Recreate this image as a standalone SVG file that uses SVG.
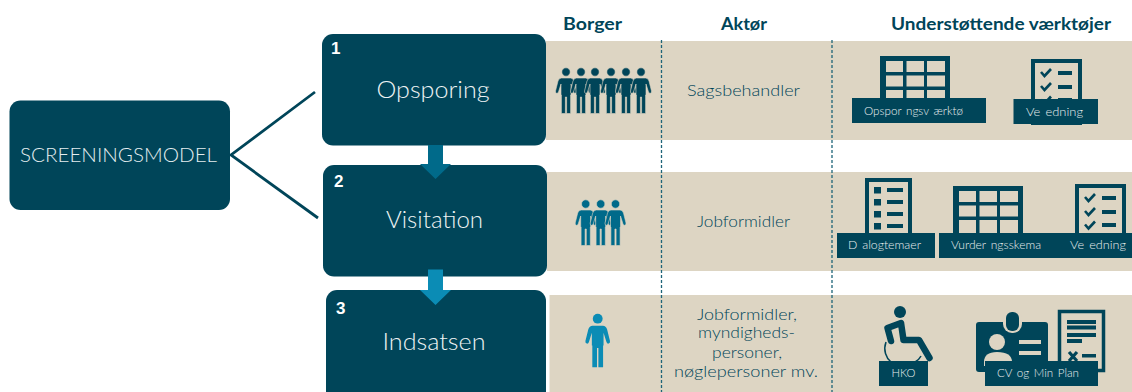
<svg xmlns="http://www.w3.org/2000/svg" width="1132" height="392" viewBox="0 0 1132 392">
<style>
.box{fill:#004559}
.panel{fill:#ddd5c3}
.dash{stroke:#1d6478;stroke-width:1.3;stroke-dasharray:3 2;fill:none}
.conn{stroke:#004559;stroke-width:2.8;fill:none}
text{font-family:"Lato","Open Sans","Liberation Sans",sans-serif}
.head{font-size:16.5px;font-weight:700;fill:#004559}
.title{font-size:24px;font-weight:300;fill:#eef3f4;text-anchor:middle}
.num{font-size:17px;font-weight:700;fill:#fff;font-family:"Liberation Sans",sans-serif}
.actor{font-size:15.5px;font-weight:300;fill:#004559;text-anchor:middle}
.lab{font-size:11.5px;font-weight:300;fill:#e9eeee;word-spacing:1.5px}
.cell{fill:#ddd5c3}
.ink{fill:#004559}
.chk{fill:none;stroke:#004559;stroke-width:2.6}
.crowd{stroke:#ddd5c3;stroke-width:.6}
</style>
<defs>
<g id="person"><circle cx="0" cy="0" r="4.200"/><path d="M-4.500 6H4.500Q7 6 8 9L10.500 19Q10.800 21 9.300 21.300Q8 21.500 7.500 20L5 12V23H4.600V41.500H.6V25H-.6V41.500H-4.600V23H-5V12L-7.500 20Q-8 21.500-9.300 21.300Q-10.800 21-10.500 19L-8 9Q-7 6-4.500 6Z"/></g>
<g id="table"><rect class="ink" width="70" height="47"/>
<rect class="cell" x="6" y="5" width="17" height="11"/><rect class="cell" x="26.500" y="5" width="17.500" height="11"/><rect class="cell" x="47" y="5" width="18" height="11"/>
<rect class="cell" x="6" y="19.500" width="17" height="11"/><rect class="cell" x="26.500" y="19.500" width="17.500" height="11"/><rect class="cell" x="47" y="19.500" width="18" height="11"/>
<rect class="cell" x="6" y="34" width="17" height="13"/><rect class="cell" x="26.500" y="34" width="17.500" height="13"/><rect class="cell" x="47" y="34" width="18" height="13"/></g>
<g id="checklist"><rect class="cell" x="2" y="2" width="47" height="62" stroke="#004559" stroke-width="4"/>
<path class="chk" d="M10 13L13.500 17L20 10M10 27L13.500 31L20 24M10 40.500L13.500 44.500L20 37.500"/>
<rect class="ink" x="27" y="12" width="14" height="4"/><rect class="ink" x="27" y="26" width="14" height="4"/><rect class="ink" x="27" y="39" width="14" height="4"/></g>
</defs>

<g id="panels">
<rect class="panel" x="546" y="41" width="586" height="99"/>
<rect class="panel" x="547" y="172" width="585" height="99"/>
<rect class="panel" x="549.500" y="295" width="582.500" height="97"/>
<path class="dash" d="M661.500 40V392M832 40V392"/>
</g>

<g id="headers">
<text class="head" x="563" y="30" textLength="59" lengthAdjust="spacingAndGlyphs">Borger</text>
<text class="head" x="721" y="30" textLength="46" lengthAdjust="spacingAndGlyphs">Aktør</text>
<text class="head" x="891" y="30" textLength="220" lengthAdjust="spacingAndGlyphs">Understøttende værktøjer</text>
</g>

<g id="connectors">
<path class="conn" d="M315 92L231 155L318 218"/>
</g>

<g id="node-screening"><rect class="box" x="9.500" y="100.500" width="220.500" height="109.500" rx="11"/>
<text x="20" y="162" font-size="20" font-weight="300" fill="#e4edef" textLength="197" lengthAdjust="spacingAndGlyphs">SCREENINGSMODEL</text></g>

<g id="node-opsporing"><rect class="box" x="322" y="34" width="224" height="111.500" rx="11"/>
<text class="num" x="331" y="54">1</text>
<text class="title" x="433" y="98" textLength="113" lengthAdjust="spacingAndGlyphs">Opsporing</text></g>

<g id="node-visitation"><rect class="box" x="323" y="165" width="224" height="111.500" rx="11"/>
<text class="num" x="334" y="187">2</text>
<text class="title" x="434.500" y="228" textLength="97" lengthAdjust="spacingAndGlyphs">Visitation</text></g>

<g id="node-indsatsen"><rect class="box" x="326" y="290" width="220" height="120" rx="11"/>
<text class="num" x="336" y="314">3</text>
<text class="title" x="434" y="350" textLength="103" lengthAdjust="spacingAndGlyphs">Indsatsen</text></g>

<g id="arrows">
<path fill="#006a8a" d="M428 145H443V164H451L435.500 179L420 164H428Z"/>
<path fill="#0b8cb5" d="M428 269.500H443V290H451L435.500 305L420 290H428Z"/>
</g>

<g id="row1-borger" fill="#004559" class="crowd">
<use href="#person" x="566" y="72"/><use href="#person" x="581" y="72"/><use href="#person" x="595" y="72"/><use href="#person" x="611" y="72"/><use href="#person" x="626" y="72"/><use href="#person" x="641" y="72"/>
</g>
<g id="row2-borger" fill="#006a8a" class="crowd">
<use href="#person" x="585.700" y="204"/><use href="#person" x="600.700" y="204"/><use href="#person" x="615.500" y="204"/>
</g>
<g id="row3-borger" fill="#0b8cb5"><use href="#person" transform="translate(597.700 318.700) scale(1.170)"/></g>

<g id="actors">
<text class="actor" x="743.500" y="96" textLength="113" lengthAdjust="spacingAndGlyphs">Sagsbehandler</text>
<text class="actor" x="743.500" y="227" textLength="93" lengthAdjust="spacingAndGlyphs">Jobformidler</text>
<text class="actor" x="747" y="320" textLength="100" lengthAdjust="spacingAndGlyphs">Jobformidler,</text>
<text class="actor" x="746.500" y="338" textLength="97" lengthAdjust="spacingAndGlyphs">myndigheds-</text>
<text class="actor" x="747" y="358" textLength="70" lengthAdjust="spacingAndGlyphs">personer,</text>
<text class="actor" x="746" y="377" textLength="144" lengthAdjust="spacingAndGlyphs">nøglepersoner mv.</text>
</g>

<g id="tool-opsporing"><use href="#table" x="880" y="56"/><rect class="box" x="852" y="98" width="134" height="25"/>
<text class="lab" x="864" y="115" textLength="99" lengthAdjust="spacingAndGlyphs">Opspor ngsv ærktø</text></g>
<g id="tool-vejledning-1"><use href="#checklist" x="1031" y="59"/><rect class="box" x="1013.500" y="99" width="84.500" height="25"/>
<text class="lab" x="1026" y="116" textLength="57" lengthAdjust="spacingAndGlyphs">Ve edning</text></g>

<g id="tool-dialogtemaer"><rect class="cell" x="867" y="180" width="43" height="60" stroke="#004559" stroke-width="4"/>
<rect class="ink" x="874" y="187" width="7" height="6.500"/><rect class="ink" x="874" y="199" width="7" height="6.500"/><rect class="ink" x="874" y="211" width="7" height="6.500"/><rect class="ink" x="874" y="223" width="7" height="6.500"/>
<rect class="ink" x="887" y="188" width="16" height="4"/><rect class="ink" x="887" y="200" width="16" height="4"/><rect class="ink" x="887" y="212" width="16" height="4"/><rect class="ink" x="887" y="224" width="16" height="4"/>
<rect class="box" x="837" y="233" width="98" height="25"/>
<text class="lab" x="848" y="249" textLength="73" lengthAdjust="spacingAndGlyphs">D alogtemaer</text></g>
<g id="tool-vurdering"><use href="#table" x="953" y="186"/><use href="#checklist" x="1075" y="184"/><rect class="box" x="939" y="233" width="193" height="25"/>
<text class="lab" x="951" y="249" textLength="90" lengthAdjust="spacingAndGlyphs">Vurder ngsskema</text>
<text class="lab" x="1070" y="249" textLength="56" lengthAdjust="spacingAndGlyphs">Ve edning</text></g>

<g id="tool-hko">
<circle class="ink" cx="900" cy="312" r="6"/>
<path fill="none" stroke="#004559" stroke-width="6.500" stroke-linecap="round" stroke-linejoin="round" d="M891 341L887.500 328L901 323L903.500 340H919L929.500 358"/>
<path fill="none" stroke="#004559" stroke-width="1.500" d="M886 342C883 350 886 358 891 362M915 362Q919 360 921 356"/>
<rect class="box" x="879" y="361" width="49" height="25"/>
<text class="lab" x="891.500" y="377" textLength="24" lengthAdjust="spacingAndGlyphs">HKO</text></g>

<g id="tool-cv">
<rect class="cell" x="1059.500" y="311.500" width="44" height="59" stroke="#004559" stroke-width="3.500"/>
<rect class="ink" x="1067" y="320" width="29" height="4"/><rect class="ink" x="1067" y="325.500" width="29" height="4"/><rect class="ink" x="1067" y="333" width="29" height="4"/><rect class="ink" x="1067" y="339" width="15" height="4"/>
<path fill="none" stroke="#004559" stroke-width="3.200" d="M1069 352L1077 361M1077 352L1069 361"/>
<rect class="ink" x="1082" y="354" width="14" height="3.500"/>
<rect class="box" x="976" y="322" width="72" height="50" rx="3"/>
<rect x="1003" y="310" width="19" height="23" rx="9" fill="#ddd5c3"/>
<rect class="ink" x="1006" y="312" width="13" height="19" rx="6"/>
<circle cx="997" cy="342" r="8" fill="#ddd5c3"/>
<path d="M984 362Q984 352 997 352Q1012 352 1012 362V366H984Z" fill="#ddd5c3"/>
<rect x="1019" y="340" width="22" height="4" fill="#ddd5c3"/><rect x="1019" y="351" width="22" height="4" fill="#ddd5c3"/>
<rect class="box" x="985" y="361" width="113" height="25"/>
<text class="lab" x="997" y="377" textLength="82" lengthAdjust="spacingAndGlyphs">CV og Min Plan</text></g>
</svg>
